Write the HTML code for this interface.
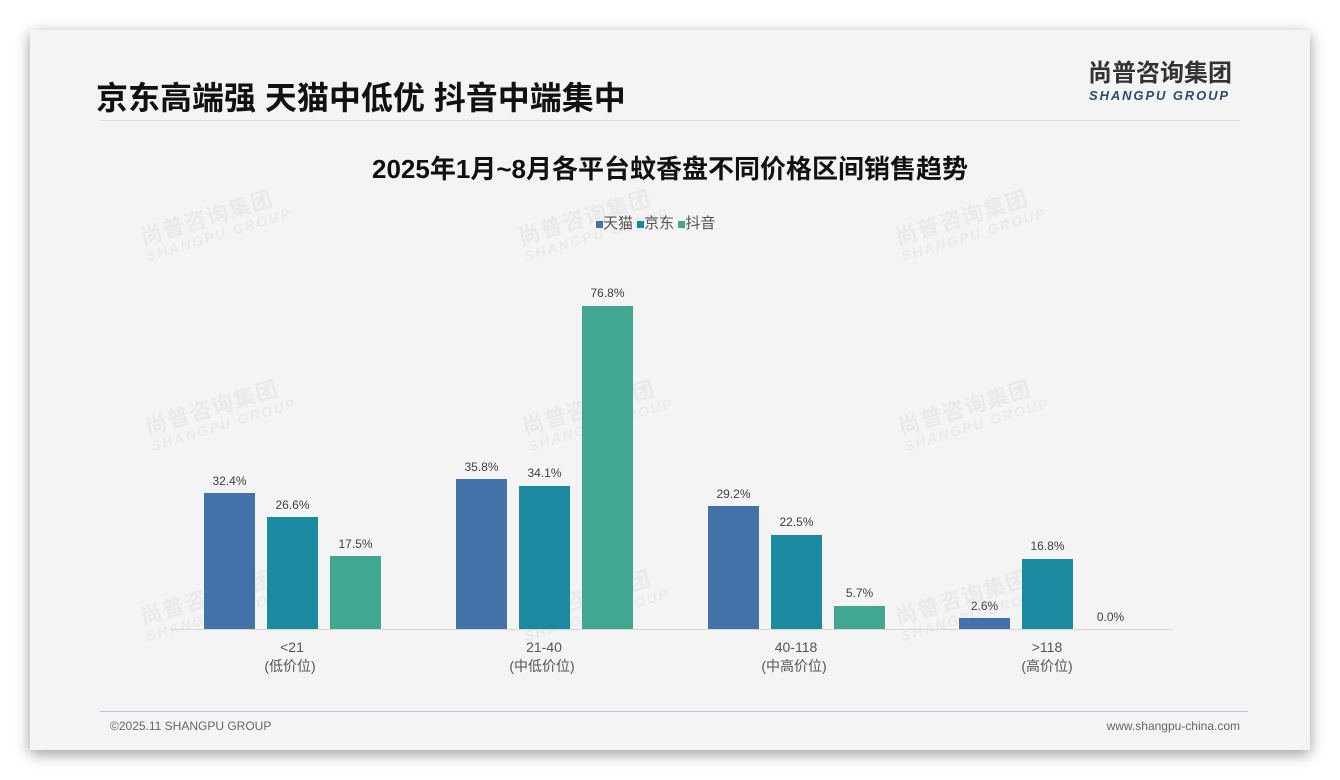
<!DOCTYPE html>
<html><head><meta charset="utf-8"><style>
body{margin:0;width:1340px;height:780px;background:#fff;position:relative;overflow:hidden;font-family:"Liberation Sans","Noto Sans CJK SC",sans-serif;}
.card{position:absolute;left:30px;top:30px;width:1280px;height:720px;background:#f4f4f4;box-shadow:0 4px 14px rgba(0,0,0,0.4);}
.t{position:absolute;white-space:nowrap;}
.wm{position:absolute;color:rgba(0,0,0,0.045);font-weight:bold;transform:rotate(-17deg);font-size:22px;line-height:22px;letter-spacing:1px}
.wm i{display:block;font-size:14px;line-height:16px;letter-spacing:2px}
</style></head><body>
<div class="card"></div>
<div class="t" style="left:96px;top:73px;font-size:32px;font-weight:bold;color:#111;">京东高端强 天猫中低优 抖音中端集中</div>
<div class="t" style="left:1088px;top:59px;font-size:24px;line-height:30px;font-weight:bold;color:#333;">尚普咨询集团</div>
<div class="t" style="left:1089px;top:88px;font-size:13px;line-height:15px;font-weight:bold;font-style:italic;color:#2a4d75;letter-spacing:1.9px;">SHANGPU GROUP</div>
<div style="position:absolute;left:100px;top:120px;width:1140px;height:1px;background:#ddd"></div>
<div class="t" style="left:0;width:1340px;text-align:center;top:149px;font-size:26px;font-weight:bold;color:#111;">2025年1月~8月各平台蚊香盘不同价格区间销售趋势</div>
<div class="t" style="left:596px;top:212px;font-size:15px;color:#555;"><span style="display:inline-block;width:7px;height:7px;background:#4272a8"></span>天猫 <span style="display:inline-block;width:7px;height:7px;background:#1a8aa0"></span>京东 <span style="display:inline-block;width:7px;height:7px;background:#41a792"></span>抖音</div>
<div class="wm" style="left:140px;top:205px">尚普咨询集团<i>SHANGPU GROUP</i></div>
<div class="wm" style="left:518px;top:205px">尚普咨询集团<i>SHANGPU GROUP</i></div>
<div class="wm" style="left:895px;top:205px">尚普咨询集团<i>SHANGPU GROUP</i></div>
<div class="wm" style="left:145px;top:395px">尚普咨询集团<i>SHANGPU GROUP</i></div>
<div class="wm" style="left:522px;top:395px">尚普咨询集团<i>SHANGPU GROUP</i></div>
<div class="wm" style="left:898px;top:395px">尚普咨询集团<i>SHANGPU GROUP</i></div>
<div class="wm" style="left:140px;top:585px">尚普咨询集团<i>SHANGPU GROUP</i></div>
<div class="wm" style="left:518px;top:585px">尚普咨询集团<i>SHANGPU GROUP</i></div>
<div class="wm" style="left:895px;top:585px">尚普咨询集团<i>SHANGPU GROUP</i></div>
<svg style="position:absolute;left:0;top:0" width="1340" height="780" font-family="Liberation Sans, Noto Sans CJK SC, sans-serif">
<line x1="170" y1="629.5" x2="1173" y2="629.5" stroke="#d6d6d6"/>
<g font-size="12" fill="#404040" text-anchor="middle">
<rect x="204" y="493" width="51" height="136" fill="#4272a8"/><text x="229.5" y="485">32.4%</text>
<rect x="267" y="517" width="51" height="112" fill="#1a8aa0"/><text x="292.5" y="509">26.6%</text>
<rect x="330" y="556" width="51" height="73" fill="#41a792"/><text x="355.5" y="548">17.5%</text>
<rect x="456" y="479" width="51" height="150" fill="#4272a8"/><text x="481.5" y="471">35.8%</text>
<rect x="519" y="486" width="51" height="143" fill="#1a8aa0"/><text x="544.5" y="477">34.1%</text>
<rect x="582" y="306" width="51" height="323" fill="#41a792"/><text x="607.5" y="297">76.8%</text>
<rect x="708" y="506" width="51" height="123" fill="#4272a8"/><text x="733.5" y="498">29.2%</text>
<rect x="771" y="535" width="51" height="94" fill="#1a8aa0"/><text x="796.5" y="526">22.5%</text>
<rect x="834" y="606" width="51" height="23" fill="#41a792"/><text x="859.5" y="597">5.7%</text>
<rect x="959" y="618" width="51" height="11" fill="#4272a8"/><text x="984.5" y="610">2.6%</text>
<rect x="1022" y="559" width="51" height="70" fill="#1a8aa0"/><text x="1047.5" y="550">16.8%</text>
<text x="1110.5" y="621">0.0%</text>
</g>
<g font-size="14" fill="#555" text-anchor="middle">
<text x="292" y="652">&lt;21</text><text x="290" y="671">(低价位)</text>
<text x="544" y="652">21-40</text><text x="542" y="671">(中低价位)</text>
<text x="796" y="652">40-118</text><text x="794" y="671">(中高价位)</text>
<text x="1047" y="652">&gt;118</text><text x="1047" y="671">(高价位)</text>
</g>
<line x1="100" y1="711.5" x2="1248" y2="711.5" stroke="#b4c8dc"/>
<text x="110" y="730" font-size="12" fill="#666">©2025.11 SHANGPU GROUP</text>
<text x="1240" y="730" font-size="12" fill="#666" text-anchor="end">www.shangpu-china.com</text>
</svg>
</body></html>
